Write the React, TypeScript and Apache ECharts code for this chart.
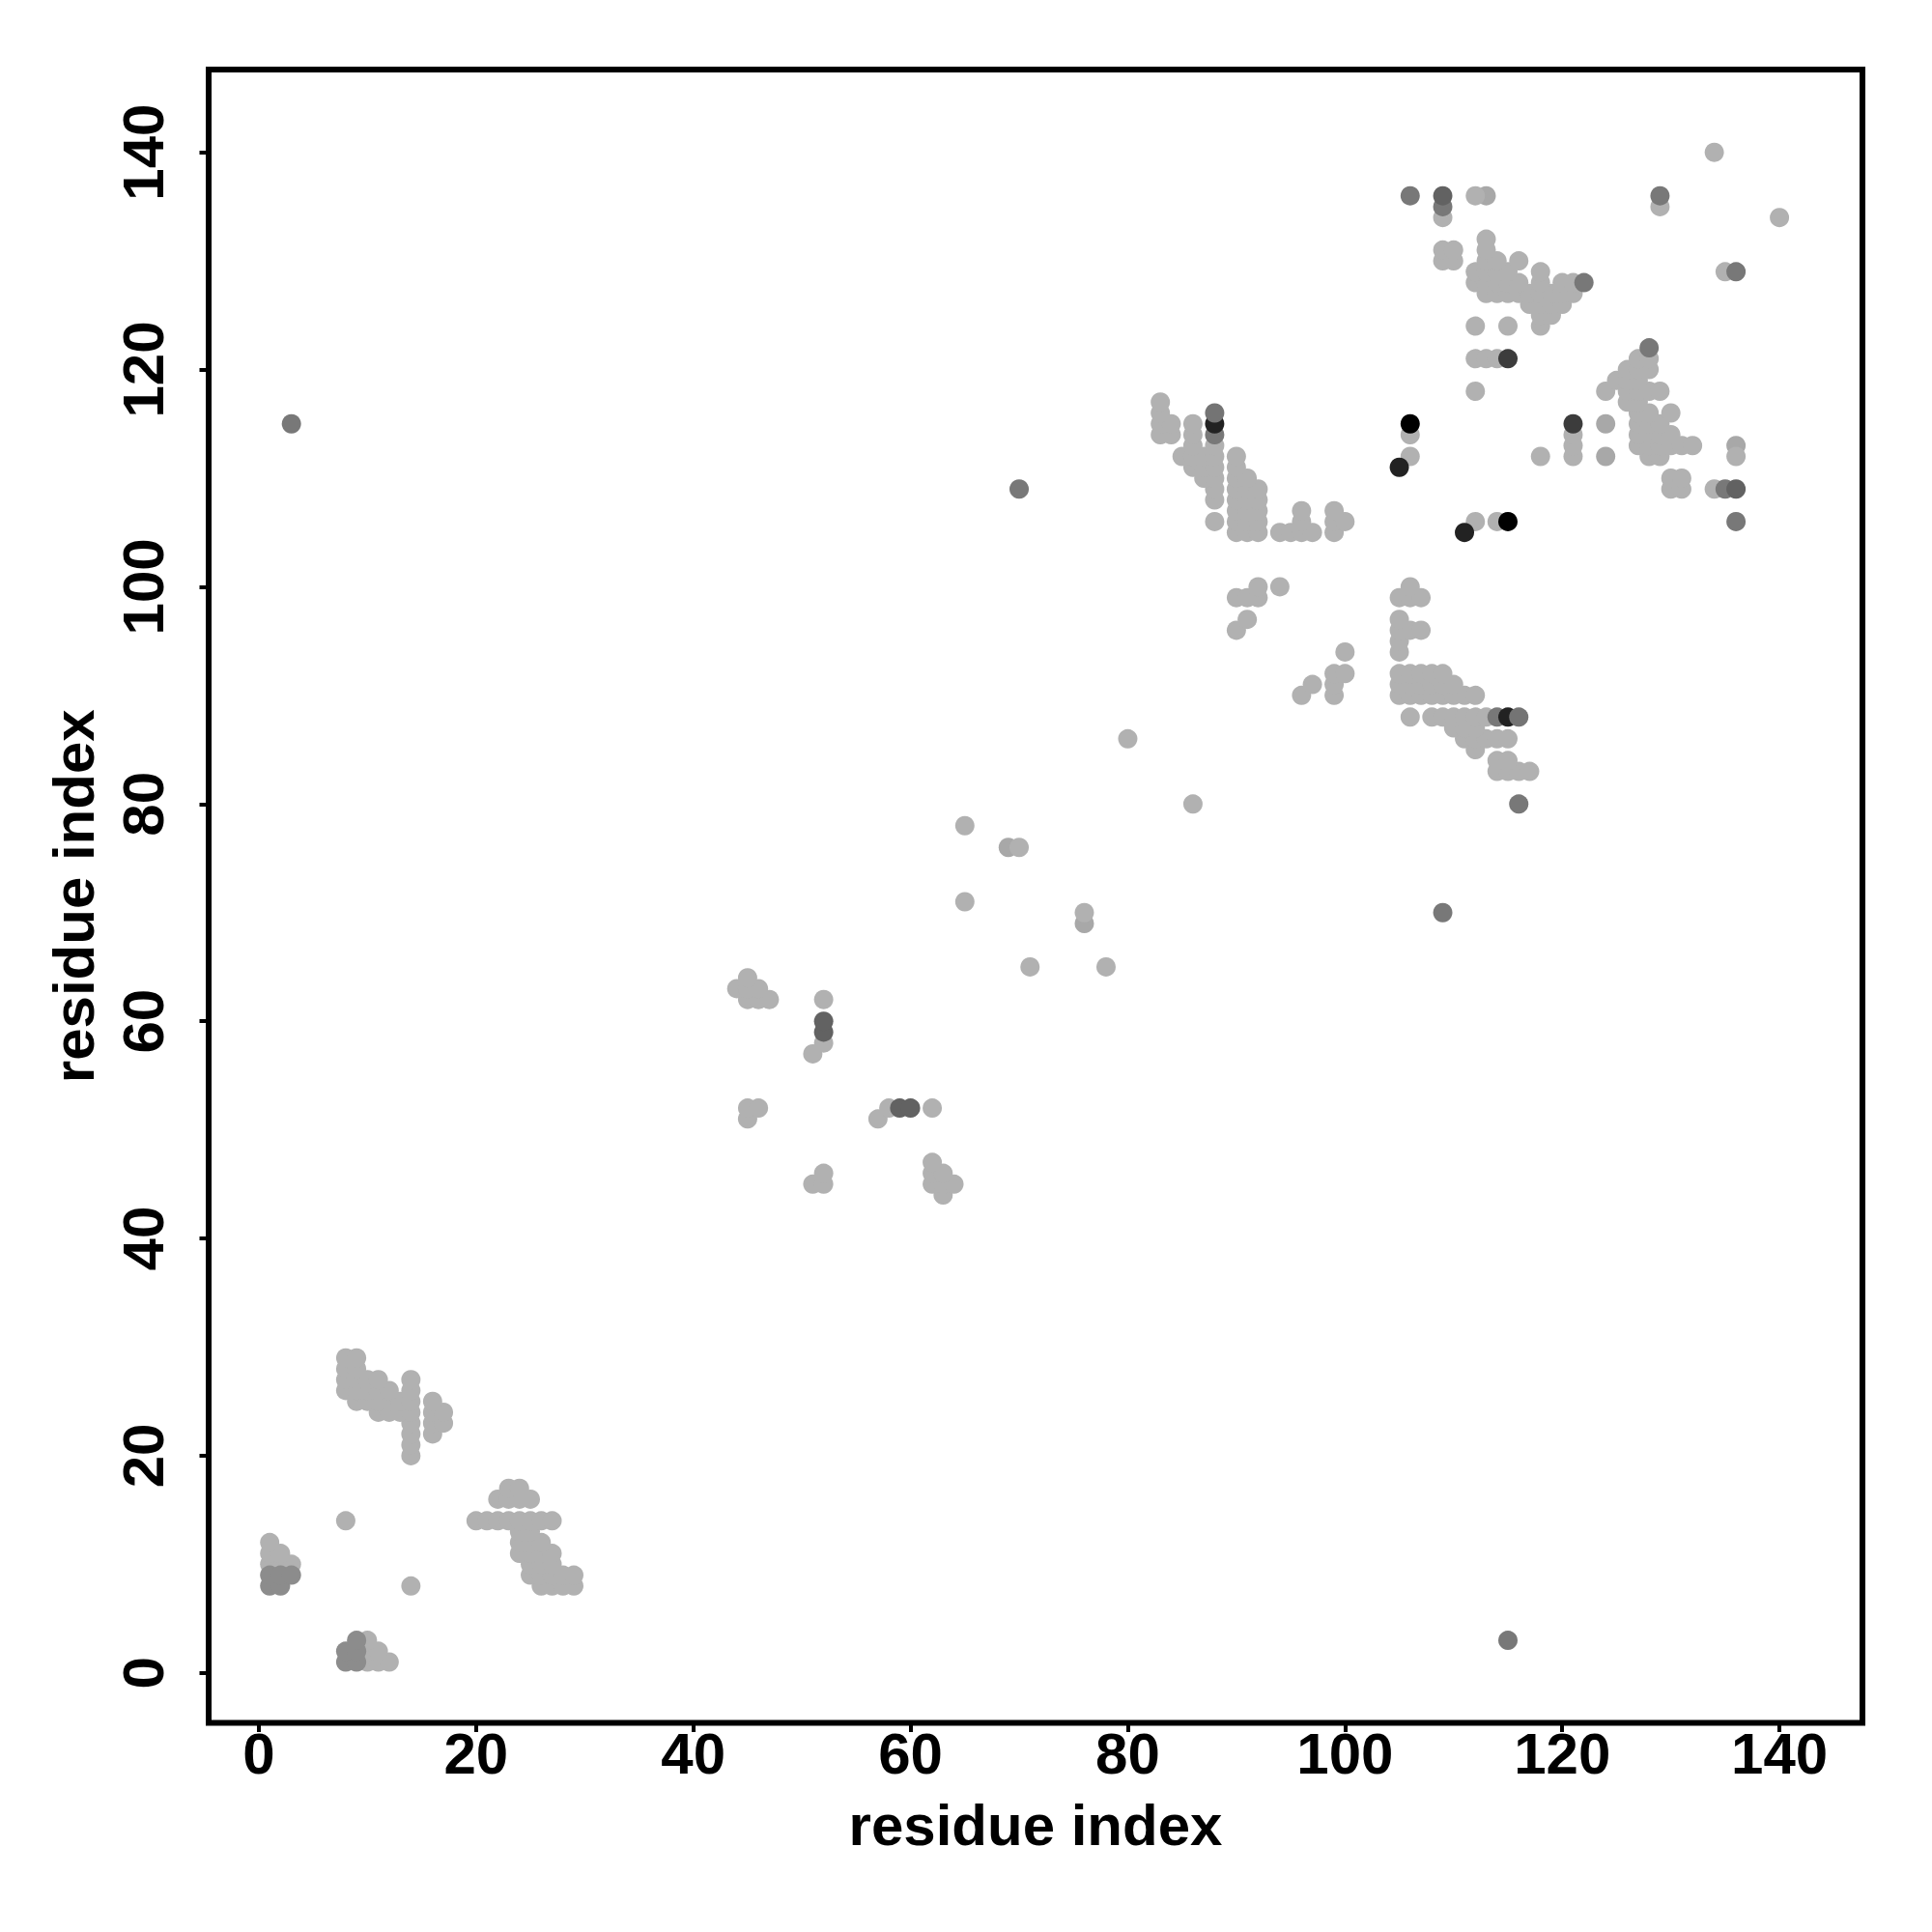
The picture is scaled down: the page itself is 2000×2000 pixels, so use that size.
import React, { useEffect, useRef } from "react";
import * as echarts from "echarts";

type Row = [number, number[]];

const tickValues = [0, 20, 40, 60, 80, 100, 120, 140];
const axisTitle = "residue index";

// [residue y, residue x values]
const softRows: Row[] = [
  [136, [113]], [115, [124]], [113, [136]], [112, [124]], [76, [69]], [69, [76]],
];
const lightRows: Row[] = [
  [1, [10, 11, 12]], [2, [10, 11]], [3, [10]],
  [8, [14, 26, 27, 28, 29]], [9, [25, 26, 27, 28, 29]], [10, [1, 2, 3, 25, 26, 27]],
  [11, [1, 2, 24, 25, 26, 27]], [12, [1, 24, 25, 26]], [13, [24, 25]],
  [14, [8, 20, 21, 22, 23, 24, 25, 26, 27]], [16, [22, 23, 24, 25]], [17, [23, 24]],
  [20, [14]], [21, [14]], [22, [14, 16]], [23, [14, 16, 17]], [24, [11, 12, 13, 14, 16, 17]],
  [25, [9, 10, 11, 12, 13, 14, 16]], [26, [8, 9, 10, 11, 12, 14]], [27, [8, 9, 10, 11, 14]],
  [28, [8, 9]], [29, [8, 9]],
  [44, [63]], [45, [51, 52, 62, 63, 64]], [46, [52, 62, 63]], [47, [62]],
  [51, [45, 57]], [52, [45, 46, 58, 62]], [57, [51]], [58, [52]],
  [62, [45, 46, 47, 52]], [63, [44, 45, 46]], [64, [45]],
  [65, [71, 78]], [70, [76]], [71, [65]], [76, [70]], [78, [65]], [80, [86]],
  [83, [114, 115, 116, 117]], [84, [114, 115]], [85, [112]], [86, [80, 111, 112, 113, 114, 115]],
  [87, [110, 111, 112]], [88, [106, 108, 109, 110, 111, 112, 113]],
  [90, [96, 99, 105, 106, 107, 108, 109, 110, 111, 112]],
  [91, [97, 99, 105, 106, 107, 108, 109, 110]],
  [92, [99, 100, 105, 106, 107, 108, 109]],
  [94, [100, 105]], [95, [105]], [96, [90, 105, 106, 107]], [97, [91, 105]],
  [99, [90, 91, 92, 105, 106, 107]], [100, [92, 94, 106]],
  [105, [90, 91, 92, 94, 95, 96, 97, 99]],
  [106, [88, 90, 91, 92, 96, 99, 100, 112, 114]],
  [107, [90, 91, 92, 96, 99]], [108, [88, 90, 91, 92]],
  [109, [88, 90, 91, 92, 130, 131, 134]], [110, [87, 88, 90, 91, 130, 131]],
  [111, [86, 87, 88, 90]], [112, [85, 86, 87, 88, 90, 106, 118, 121, 128, 129, 136]],
  [113, [86, 88, 121, 127, 128, 129, 130, 131, 132]],
  [114, [83, 84, 86, 106, 121, 127, 128, 129, 130]],
  [115, [83, 84, 86, 127, 128, 129]], [116, [83, 127, 128, 130]], [117, [83, 126, 127]],
  [118, [112, 124, 126, 127, 128, 129]], [119, [125, 126, 127]], [120, [126, 127, 128]],
  [121, [112, 113, 114, 127, 128]], [124, [112, 115, 118]], [125, [118, 119]],
  [126, [117, 118, 119, 120]], [127, [113, 114, 115, 116, 117, 118, 119, 120, 121]],
  [128, [112, 113, 114, 115, 116, 118, 120, 121]], [129, [112, 113, 114, 115, 118, 135]],
  [130, [109, 110, 113, 114, 116]], [131, [109, 110, 113]], [132, [113]],
  [134, [109, 140]], [135, [129]], [136, [112]], [140, [134]],
];
const midRows: Row[] = [
  [1, [8, 9]], [2, [8, 9]], [3, [9]], [8, [1, 2]], [9, [1, 2, 3]],
];
const grayRows: Row[] = [
  [3, [115]], [70, [109]], [80, [116]], [88, [114]], [106, [136]], [109, [70, 135]],
  [114, [88]], [115, [3]], [122, [128]], [128, [122]], [129, [136]],
  [135, [109]], [136, [106, 129]],
];
const darkRows: Row[] = [
  [52, [59, 60]], [59, [52]], [60, [52]], [109, [136]], [136, [109]],
];
const charcoalRows: Row[] = [[115, [121]], [121, [115]]];
const nearBlackRows: Row[] = [[88, [115]], [105, [111]], [111, [105]], [115, [88]]];
const blackRows: Row[] = [[106, [115]], [115, [106]]];
const overlayRows: Row[] = [[88, [116]], [116, [88]]];

const toPoints = (rows: Row[]) => rows.flatMap(([y, xs]) => xs.map((x) => [x, y]));

const layers: [Row[], string][] = [
  [softRows, "#a8a8a8"],
  [lightRows, "#b1b1b1"],
  [midRows, "#8c8c8c"],
  [grayRows, "#787878"],
  [darkRows, "#626262"],
  [charcoalRows, "#3c3c3c"],
  [nearBlackRows, "#222222"],
  [blackRows, "#000000"],
  [overlayRows, "#747474"],
];

const font = "Liberation Sans";

const makeAxis = (min: number, max: number, nameGap: number, labelMargin: number, extra: object) => ({
  type: "value",
  min,
  max,
  name: axisTitle,
  nameLocation: "middle",
  nameGap,
  nameTextStyle: { fontFamily: font, fontWeight: "bold", fontSize: 60, color: "#000" },
  axisLine: { show: false, onZero: false },
  splitLine: { show: false },
  axisTick: {
    show: true,
    length: 9.5,
    customValues: tickValues,
    lineStyle: { color: "#000", width: 4 },
  },
  axisLabel: {
    show: true,
    margin: labelMargin,
    customValues: tickValues,
    fontFamily: font,
    fontWeight: "bold",
    fontSize: 60,
    color: "#000",
    showMinLabel: true,
    showMaxLabel: true,
    hideOverlap: false,
    ...extra,
  },
});

export default function App() {
  const ref = useRef<HTMLDivElement>(null);
  useEffect(() => {
    if (!ref.current) return;
    const chart = echarts.init(ref.current, null, { renderer: "svg" });
    chart.setOption({
      animation: false,
      backgroundColor: "#ffffff",
      grid: {
        show: true,
        left: 216,
        top: 72,
        width: 1712,
        height: 1711.5,
        borderColor: "#000",
        borderWidth: 6,
        backgroundColor: "transparent",
      },
      xAxis: makeAxis(-4.62, 147.64, 76, 2, {}),
      yAxis: makeAxis(-4.6, 147.62, 110, 38, { rotate: 90, align: "center", verticalAlign: "bottom" }),
      series: layers.map(([rows, color]) => ({
        type: "scatter",
        data: toPoints(rows),
        symbol: "circle",
        symbolSize: 20,
        silent: true,
        itemStyle: { color, opacity: 1 },
      })),
    });
    return () => chart.dispose();
  }, []);
  return (
    <div
      ref={ref}
      style={{ position: "fixed", left: 0, top: 0, width: 2000, height: 2000, background: "#fff" }}
    />
  );
}
